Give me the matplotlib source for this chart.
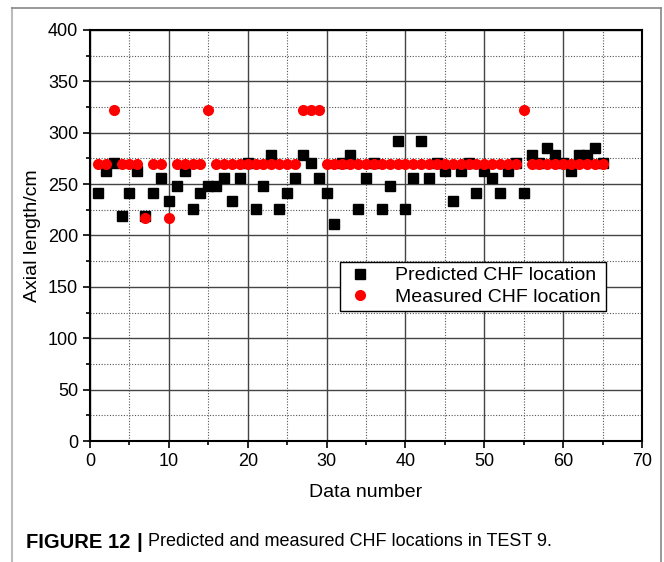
import numpy as np
import matplotlib
matplotlib.use("Agg")
import matplotlib.pyplot as plt
from matplotlib.lines import Line2D

plt.rcParams['font.family'] = ['Liberation Sans', 'DejaVu Sans']

# data number 1..65
data_number = list(range(1, 66))

# predicted CHF location (cm)
predicted = [241, 263, 271, 219, 241, 263, 219, 241, 256, 234,
             248, 263, 226, 241, 248, 248, 256, 234, 256, 271,
             226, 248, 278, 226, 241, 256, 278, 271, 256, 241,
             211, 271, 278, 226, 256, 271, 226, 248, 292, 226,
             256, 292, 256, 271, 263, 234, 263, 271, 241, 263,
             256, 241, 263, 271, 241, 278, 271, 285, 278, 271,
             263, 278, 278, 285, 271]

# measured CHF location (cm)
measured = [270, 270, 322, 270, 270, 270, 217, 270, 270, 217,
            270, 270, 270, 270, 322, 270, 270, 270, 270, 270,
            270, 270, 270, 270, 270, 270, 322, 322, 322, 270,
            270, 270, 270, 270, 270, 270, 270, 270, 270, 270,
            270, 270, 270, 270, 270, 270, 270, 270, 270, 270,
            270, 270, 270, 270, 322, 270, 270, 270, 270, 270,
            270, 270, 270, 270, 270]

fig = plt.figure(figsize=(6.64, 5.62), dpi=100)
ax = fig.add_axes([90/664, 121/562, 552/664, 411/562])

ax.plot(data_number, predicted, 's', color='black', markersize=7,
        label='Predicted CHF location', zorder=3)
ax.plot(data_number, measured, 'o', color='#ff0000', markersize=8,
        markeredgewidth=0, label='Measured CHF location', zorder=4)

ax.set_xlim(0, 70)
ax.set_ylim(0, 400)
ax.set_xticks(np.arange(0, 71, 10))
ax.set_yticks(np.arange(0, 401, 50))
ax.set_xticks(np.arange(5, 70, 10), minor=True)
ax.set_yticks(np.arange(25, 400, 50), minor=True)

ax.grid(True, which='major', color='#444444', linewidth=1.0, linestyle='-')
ax.grid(True, which='minor', color='#555555', linewidth=0.8, linestyle=(0, (1, 1.5)))
ax.set_axisbelow(True)

ax.tick_params(which='major', direction='out', length=5, width=1.2, labelsize=13)
ax.tick_params(which='minor', direction='out', length=3, width=1.2)
for s in ax.spines.values():
    s.set_linewidth(1.5)

ax.set_xlabel('Data number', fontsize=14, labelpad=10)
ax.set_ylabel('Axial length/cm', fontsize=14, labelpad=5)

leg = ax.legend(loc='upper left', bbox_to_anchor=((340-90)/552, (441-262)/411),
                borderaxespad=0, fontsize=14, fancybox=False, framealpha=1,
                edgecolor='black', handletextpad=1.0, borderpad=0.25,
                labelspacing=0.2, handlelength=1.6)
leg.get_frame().set_linewidth(1.0)

# gray frame around figure
fig.add_artist(Line2D([12/664, 12/664], [0, 1-8/562], color='#bbbbbb', lw=1.5))
fig.add_artist(Line2D([12/664, 661/664], [1-8/562, 1-8/562], color='#888888', lw=1.2))
fig.add_artist(Line2D([661/664, 661/664], [0, 1-8/562], color='#888888', lw=1.2))

# caption
ycap = 1-542/562
fig.text(26/664, ycap, 'FIGURE 12', fontsize=14.5, fontweight='bold', va='center')
fig.text(139/664, ycap, '|', fontsize=15, fontweight='bold', va='center', ha='center')
fig.text(148/664, ycap, 'Predicted and measured CHF locations in TEST 9.',
         fontsize=13, va='center')

fig.savefig('out.png', dpi=100)
